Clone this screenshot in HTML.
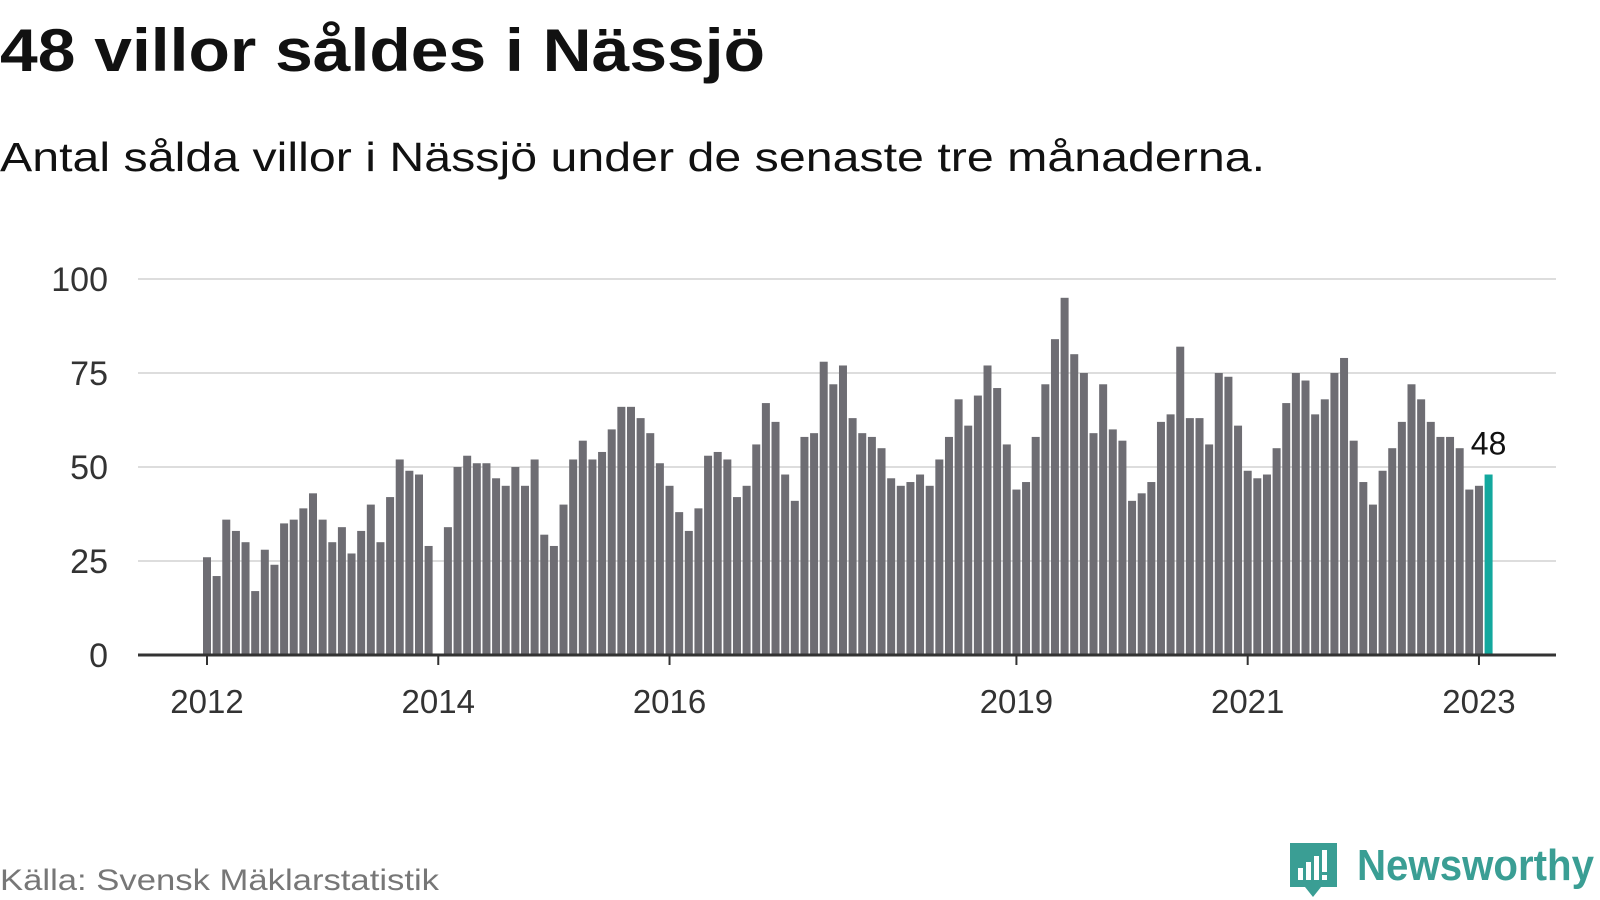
<!DOCTYPE html>
<html><head><meta charset="utf-8"><style>
html,body{margin:0;padding:0;background:#fff;}
svg{display:block;font-family:"Liberation Sans",sans-serif;}
</style></head><body>
<svg id="chart" width="1600" height="900" viewBox="0 0 1600 900">
<text x="0" y="71" font-size="60" font-weight="bold" fill="#111" textLength="765" lengthAdjust="spacingAndGlyphs">48 villor såldes i Nässjö</text>
<text x="0" y="171" font-size="41" fill="#111" textLength="1265" lengthAdjust="spacingAndGlyphs">Antal sålda villor i Nässjö under de senaste tre månaderna.</text>
<g id="grid"></g>
<g id="bars"></g>
<g id="axes"></g>
<text x="0" y="890" font-size="30" fill="#777" textLength="439" lengthAdjust="spacingAndGlyphs">Källa: Svensk Mäklarstatistik</text>
<g>
<path d="M1290 843 h47 v44 h-16 l-8 10 l-8 -10 h-15 z" fill="#3a9e94"/>
<rect x="1298" y="868" width="5" height="12" fill="#fff"/>
<rect x="1306" y="862" width="5" height="18" fill="#fff"/>
<rect x="1314" y="856" width="5" height="24" fill="#fff"/>
<rect x="1322" y="850" width="5" height="22" fill="#fff"/>
<rect x="1322" y="875" width="5" height="5" fill="#fff"/>
<text x="1357" y="880" font-size="44" font-weight="bold" fill="#3a9e94" textLength="237" lengthAdjust="spacingAndGlyphs">Newsworthy</text>
</g>
</svg>
<script>
const values = [26,21,36,33,30,17,28,24,35,36,39,43,
36,30,34,27,33,40,30,42,52,49,48,29,
null,34,50,53,51,51,47,45,50,45,52,32,
29,40,52,57,52,54,60,66,66,63,59,51,
45,38,33,39,53,54,52,42,45,56,67,62,
48,41,58,59,78,72,77,63,59,58,55,47,
45,46,48,45,52,58,68,61,69,77,71,56,
44,46,58,72,84,95,80,75,59,72,60,57,
41,43,46,62,64,82,63,63,56,75,74,61,
49,47,48,55,67,75,73,64,68,75,79,57,
46,40,49,55,62,72,68,62,58,58,55,44,
45,48];
const yTicks = [0,25,50,75,100];
const xTickLabels = ["2012","2014","2016","2019","2021","2023"];
const xTickIndex = [0,24,48,84,108,132];
const lastLabel = "48";

const NS="http://www.w3.org/2000/svg";
const x0=207, step=9.636, bw=8, yBase=655, yTop=279, left=138, right=1556;
const xs=i=>x0+i*step;
const ys=v=>yBase-(v/100)*(yBase-yTop);
const grid=document.getElementById('grid'), barsG=document.getElementById('bars'), axes=document.getElementById('axes');
yTicks.forEach(t=>{
  if(t>0){
    const l=document.createElementNS(NS,'line');
    l.setAttribute('x1',left);l.setAttribute('x2',right);l.setAttribute('y1',ys(t));l.setAttribute('y2',ys(t));
    l.setAttribute('stroke','#ddd');l.setAttribute('stroke-width','2');
    
    
    grid.appendChild(l);
  }
  const tx=document.createElementNS(NS,'text');
  tx.setAttribute('x',108);tx.setAttribute('y',ys(t)+12);tx.setAttribute('text-anchor','end');
  tx.setAttribute('font-size','34');tx.setAttribute('fill','#333');tx.textContent=t;
  
  
  axes.appendChild(tx);
});
values.forEach((v,i)=>{
  if(v==null)return;
  const r=document.createElementNS(NS,'rect');
  r.setAttribute('x',xs(i)-bw/2);r.setAttribute('width',bw);
  r.setAttribute('y',ys(v));r.setAttribute('height',yBase-ys(v));
  r.setAttribute('fill',i===values.length-1?'#13a89e':'#6e6d73');
  
  
  barsG.appendChild(r);
});
const li=values.length-1;
const lab=document.createElementNS(NS,'text');
lab.setAttribute('x',xs(li));lab.setAttribute('y',ys(values[li])-20);
lab.setAttribute('text-anchor','middle');lab.setAttribute('font-size','32');lab.setAttribute('fill','#111');
lab.textContent=lastLabel;


axes.appendChild(lab);
const ax=document.createElementNS(NS,'line');
ax.setAttribute('x1',left);ax.setAttribute('x2',right);ax.setAttribute('y1',yBase);ax.setAttribute('y2',yBase);
ax.setAttribute('stroke','#333');ax.setAttribute('stroke-width','3');


axes.appendChild(ax);
xTickLabels.forEach((s,k)=>{
  const x=xs(xTickIndex[k]);
  const t=document.createElementNS(NS,'line');
  t.setAttribute('x1',x);t.setAttribute('x2',x);t.setAttribute('y1',yBase);t.setAttribute('y2',yBase+10);
  t.setAttribute('stroke','#333');t.setAttribute('stroke-width','2');
  
  
  axes.appendChild(t);
  const tx=document.createElementNS(NS,'text');
  tx.setAttribute('x',x);tx.setAttribute('y',713);tx.setAttribute('text-anchor','middle');
  tx.setAttribute('font-size','33');tx.setAttribute('fill','#333');tx.textContent=s;
  
  
  axes.appendChild(tx);
});
</script>
</body></html>
